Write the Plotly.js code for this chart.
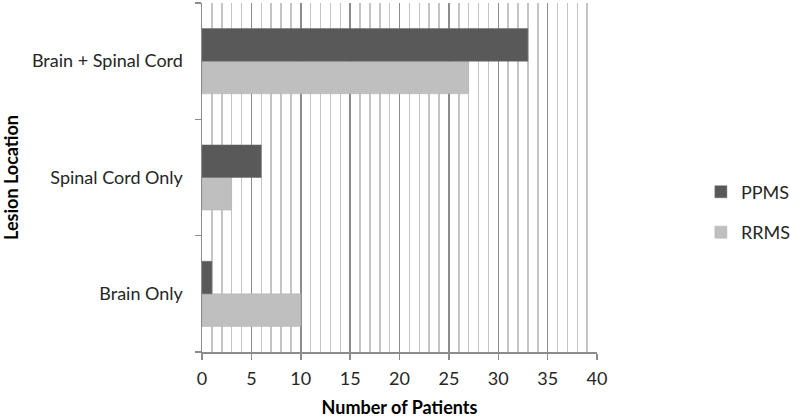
<!DOCTYPE html>
<html>
<head>
<meta charset="utf-8">
<script src="https://cdn.plot.ly/plotly-3.0.1.min.js"></script>
<style>html,body{margin:0;padding:0;background:#fff;}#chart{width:790px;height:418px;}</style>
</head>
<body>
<div id="chart"></div>
<script>
const categories = ['Brain Only', 'Spinal Cord Only', 'Brain + Spinal Cord'];
const ppms = [1, 6, 33];
const rrms = [10, 3, 27];
const xTicks = [0, 5, 10, 15, 20, 25, 30, 35, 40];

const FONT = 'Lato, "Open Sans", sans-serif';

const traces = [
  {
    type: 'bar', orientation: 'h', name: 'RRMS', legendgroup: 'b', legendrank: 2,
    y: categories, x: rrms,
    marker: {color: '#BFBFBF', line: {color: '#B0B0B0', width: 0.5}}
  },
  {
    type: 'bar', orientation: 'h', name: 'PPMS', legendgroup: 'a', legendrank: 1,
    y: categories, x: ppms,
    marker: {color: '#595959', line: {color: '#6a6a6a', width: 0.5}}
  }
];

const layout = {
  width: 790, height: 418,
  margin: {l: 202, r: 193, t: 3, b: 66, autoexpand: false},
  paper_bgcolor: '#fff', plot_bgcolor: '#fff',
  barmode: 'group', bargap: 0.44, bargroupgap: 0,
  font: {family: FONT, size: 18, color: '#262626'},
  showlegend: true,
  legend: {
    traceorder: 'grouped', x: 1.263, y: 0.401, xanchor: 'left', yanchor: 'middle',
    font: {family: FONT, size: 18, color: '#262626'},
    tracegroupgap: 14, itemwidth: 30, bgcolor: 'rgba(0,0,0,0)'
  },
  xaxis: {
    range: [0, 40], tickvals: xTicks, ticktext: xTicks.map(String),
    showgrid: true, gridcolor: '#8c8c8c', gridwidth: 1.5,
    minor: {dtick: 1, showgrid: true, gridcolor: '#c4c4c4', gridwidth: 1.5, ticks: ''},
    showline: true, linecolor: '#8c8c8c', linewidth: 1.5,
    ticks: 'outside', ticklen: 6, tickcolor: '#8c8c8c', tickwidth: 1.5,
    ticklabelstandoff: 4,
    zeroline: false,
    tickfont: {family: FONT, size: 18, color: '#262626'},
    title: {text: '<b>Number of Patients</b>', font: {family: FONT, size: 18, color: '#000'}, standoff: 16},
    fixedrange: true
  },
  yaxis: {
    type: 'category', categoryorder: 'array', categoryarray: categories,
    showgrid: false, zeroline: false,
    showline: true, linecolor: '#8c8c8c', linewidth: 1.5,
    ticks: 'outside', tickson: 'boundaries', ticklen: 6, tickcolor: '#8c8c8c', tickwidth: 1.5,
    ticklabelstandoff: 14,
    tickfont: {family: FONT, size: 18, color: '#262626'},
    title: {text: '<b>Lesion Location</b>', font: {family: FONT, size: 18, color: '#000'}, standoff: 14},
    fixedrange: true
  }
};

Plotly.newPlot('chart', traces, layout, {displayModeBar: false, staticPlot: true});
</script>
</body>
</html>
